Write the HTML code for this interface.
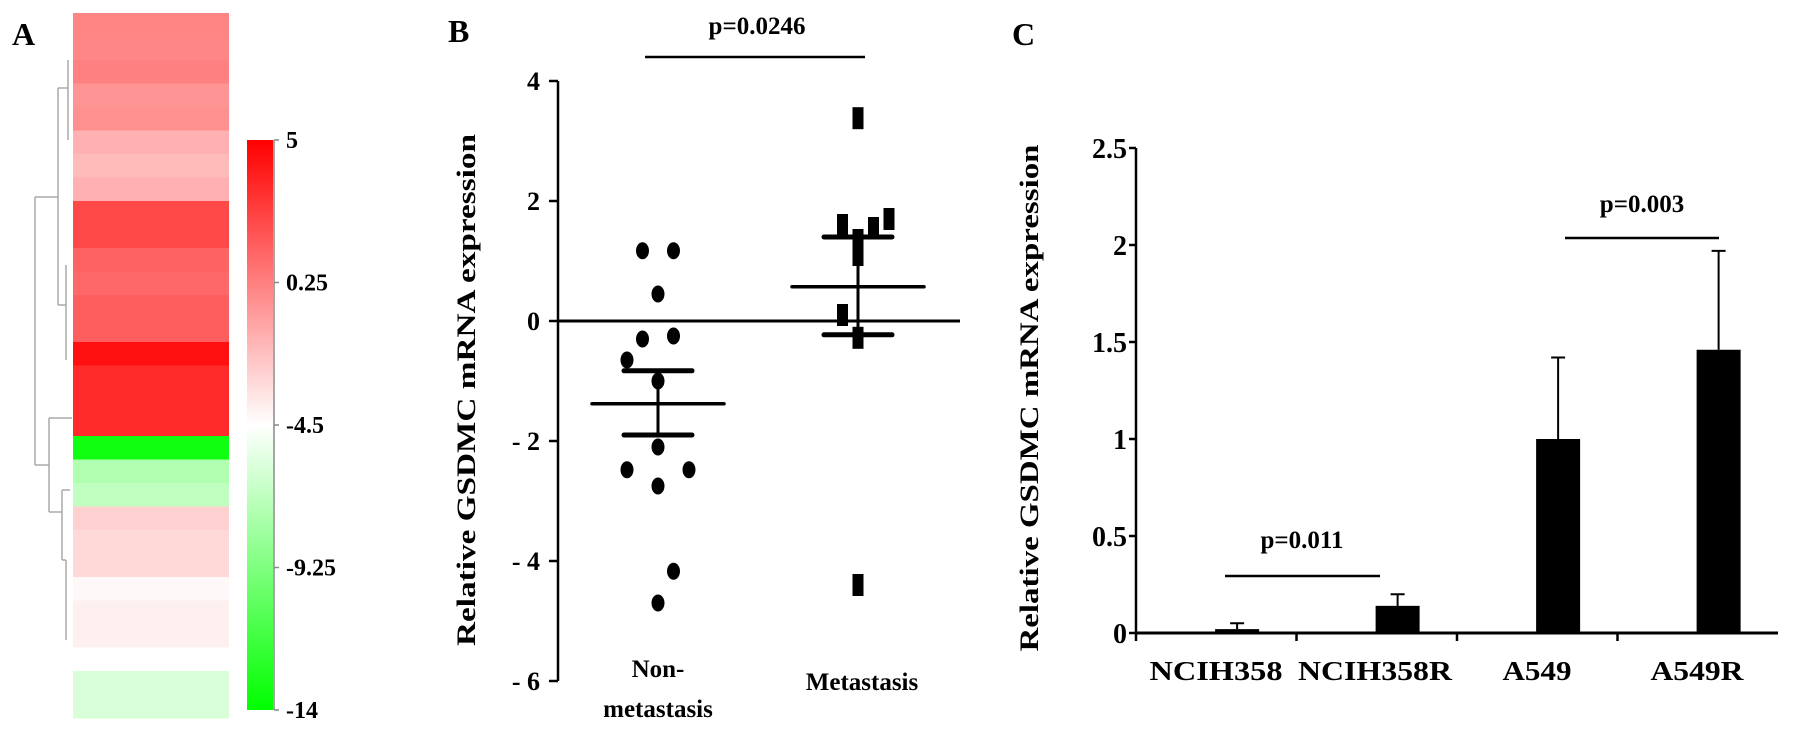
<!DOCTYPE html>
<html><head><meta charset="utf-8"><style>
html,body{margin:0;padding:0;background:#fff;}
svg{display:block;font-family:"Liberation Serif",serif;font-weight:bold;}
</style></head><body>
<svg id="fig" width="1795" height="733" viewBox="0 0 1795 733" xmlns="http://www.w3.org/2000/svg">
<defs>
<linearGradient id="cbar" x1="0" y1="0" x2="0" y2="1">
<stop offset="0" stop-color="#ff0000"/><stop offset="0.5" stop-color="#ffffff"/><stop offset="1" stop-color="#00ff00"/>
</linearGradient>
</defs>
<g id="panelA">
<text x="12" y="45" font-size="32">A</text>
<g id="heat"></g>
<g stroke="#aaa" stroke-width="1.5" fill="none">
<path d="M35,197 V465 M35,197 H58 M35,465 H49 M58,88 V305 M58,88 H68 M58,305 H66 M49,418 V512 M49,418 H72 M49,512 H62 M62,490 V560 M62,490 H70 M62,560 H66 M68,60 V140 M66,265 V360 M66,560 V640"/>
</g>
<rect x="247" y="140" width="26" height="570" fill="url(#cbar)"/>
<line x1="274" y1="140" x2="274" y2="710" stroke="#888" stroke-width="1.5"/>
<g id="cbticks" font-size="24"></g>
</g>
<g id="panelB">
<text x="448" y="42" font-size="32">B</text>
<text x="757" y="34" font-size="25" text-anchor="middle">p=0.0246</text>
<line x1="645" y1="57" x2="865" y2="57" stroke="#000" stroke-width="2.5"/>
<text transform="translate(475,390) rotate(-90)" font-size="26" text-anchor="middle" textLength="512" lengthAdjust="spacingAndGlyphs">Relative GSDMC mRNA expression</text>
<g id="bAxis"></g>
<g id="bMarks"></g>
<text x="658" y="677" font-size="25" text-anchor="middle">Non-</text>
<text x="658" y="717" font-size="25" text-anchor="middle">metastasis</text>
<text x="862" y="690" font-size="25" text-anchor="middle">Metastasis</text>
</g>
<g id="panelC">
<text x="1012" y="45" font-size="32">C</text>
<text transform="translate(1038,398) rotate(-90)" font-size="26" text-anchor="middle" textLength="507" lengthAdjust="spacingAndGlyphs">Relative GSDMC mRNA expression</text>
<g id="cAxis"></g>
<g id="cBars"></g>
<text x="1642" y="212" font-size="25" text-anchor="middle">p=0.003</text>
<line x1="1565" y1="238" x2="1719" y2="238" stroke="#000" stroke-width="2.5"/>
<text x="1302" y="548" font-size="25" text-anchor="middle">p=0.011</text>
<line x1="1225" y1="576" x2="1380" y2="576" stroke="#000" stroke-width="2.5"/>
</g>
</svg>
<script>
// Panel A data
const heatValues=[0.08,0.0,0.23,-0.5,-0.37,-1.56,-1.93,-1.56,2.32,2.32,1.35,1.13,1.5,1.5,4.4,3.43,3.43,3.43,-13.4,-7.44,-6.85,-2.75,-3.05,-3.05,-4.24,-3.94,-3.94,-4.5,-5.95,-5.95];
const scaleTicks=[5,0.25,-4.5,-9.25,-14];
// Panel B data
const nonMetX=[-1,1,0,-1,1,-2,0,0,-2,2,0,1,0];
const nonMetY=[1.17,1.17,0.45,-0.3,-0.25,-0.65,-1.0,-2.1,-2.48,-2.48,-2.75,-4.17,-4.7];
const metX=[-1,0,0,1,2,0,-1,0,0];
const metY=[1.6,1.35,1.1,1.55,1.7,3.38,0.1,-0.28,-4.4];
const bStats={nonMean:-1.38,nonHi:-0.83,nonLo:-1.9,metMean:0.57,metHi:1.4,metLo:-0.23};
const bTicks=[4,2,0,-2,-4,-6];
// Panel C data
const cCats=["NCIH358","NCIH358R","A549","A549R"];
const cVals=[0.02,0.14,1.0,1.46];
const cErr=[0.05,0.2,1.42,1.97];
const cTicks=[0,0.5,1,1.5,2,2.5];
const cTickLabels=["0","0.5","1","1.5","2","2.5"];

const NS='http://www.w3.org/2000/svg';
function mk(tag,attrs,parent){const e=document.createElementNS(NS,tag);for(const k in attrs)e.setAttribute(k,attrs[k]);parent.appendChild(e);return e;}

// Heatmap
const heat=document.getElementById('heat');
const hTop=13,hBot=718,rowH=(hBot-hTop)/heatValues.length;
function heatColor(v){
 if(v>=-4.5){const t=(v+4.5)/9.5;const g=Math.round(255*(1-t));return `rgb(255,${g},${g})`;}
 const t=(-4.5-v)/9.5;const rb=Math.round(255*(1-t));return `rgb(${rb},255,${rb})`;
}
heatValues.forEach((v,i)=>{
 const r=mk('rect',{x:73,y:hTop+i*rowH,width:156,height:rowH+0.6,fill:heatColor(v)},heat);
 
 
});
const cb=document.getElementById('cbticks');
function cbY(v){return 140+(5-v)/19*570;}
scaleTicks.forEach(v=>{
 mk('line',{x1:274,y1:cbY(v),x2:279,y2:cbY(v),stroke:'#888','stroke-width':1.5},cb);
 const t=mk('text',{x:286,y:cbY(v)+8},cb);t.textContent=String(v);
 
 
});

// Panel B
const bY=v=>321-v*60;
const bAx=document.getElementById('bAxis');
mk('line',{x1:558,y1:bY(4),x2:558,y2:bY(-6),stroke:'#000','stroke-width':2.5},bAx);
bTicks.forEach(v=>{
 mk('line',{x1:549,y1:bY(v),x2:558,y2:bY(v),stroke:'#000','stroke-width':2.5},bAx);
 const t=mk('text',{x:540,y:bY(v)+9,'font-size':26,'text-anchor':'end'},bAx);t.textContent=v<0?'- '+(-v):String(v);
 
 
});
const zl=mk('line',{x1:558,y1:bY(0),x2:960,y2:bY(0),stroke:'#000','stroke-width':3},bAx);


const bm=document.getElementById('bMarks');
const nonCx=658,metCx=858,jit=15.5;
nonMetY.forEach((v,i)=>{
 const e=mk('ellipse',{cx:nonCx+nonMetX[i]*jit,cy:bY(v),rx:6.5,ry:8.5,fill:'#000'},bm);
 
 
});
metY.forEach((v,i)=>{
 const e=mk('rect',{x:metCx+metX[i]*jit-5.5,y:bY(v)-11,width:11,height:22,fill:'#000'},bm);
 
 
});
function stat(cx,m,hi,lo,name){
 const g=mk('g',{stroke:'#000','stroke-linecap':'round'},bm);
 
 
 mk('line',{x1:cx-66,y1:bY(m),x2:cx+66,y2:bY(m),'stroke-width':3.5},g);
 mk('line',{x1:cx-34,y1:bY(hi),x2:cx+34,y2:bY(hi),'stroke-width':5},g);
 mk('line',{x1:cx-34,y1:bY(lo),x2:cx+34,y2:bY(lo),'stroke-width':5},g);
 mk('line',{x1:cx,y1:bY(hi),x2:cx,y2:bY(lo),'stroke-width':3},g);
}
stat(nonCx,bStats.nonMean,bStats.nonHi,bStats.nonLo,'non-metastasis-mean-sem');
stat(metCx,bStats.metMean,bStats.metHi,bStats.metLo,'metastasis-mean-sem');

// Panel C
const cY=v=>633-v*194;
const x0=1136,x1=1778,bw=(x1-x0)/4;
const cAx=document.getElementById('cAxis');
mk('line',{x1:x0,y1:cY(2.5),x2:x0,y2:cY(0)+8,stroke:'#000','stroke-width':2.5},cAx);
mk('line',{x1:x0,y1:cY(0),x2:x1,y2:cY(0),stroke:'#000','stroke-width':3},cAx);
cTicks.forEach((v,i)=>{
 mk('line',{x1:x0-7,y1:cY(v),x2:x0,y2:cY(v),stroke:'#000','stroke-width':2.5},cAx);
 const t=mk('text',{x:x0-9,y:cY(v)+10,'font-size':28,'text-anchor':'end'},cAx);t.textContent=cTickLabels[i];
 
 
});
for(let i=1;i<4;i++)mk('line',{x1:x0+i*bw,y1:cY(0),x2:x0+i*bw,y2:cY(0)+8,stroke:'#000','stroke-width':2.5},cAx);
const labelCx=[1216,1375,1537,1697];
const labelW=[133,154,69,93];
const cb2=document.getElementById('cBars');
cCats.forEach((c,i)=>{
 const cx=x0+i*bw+bw*0.63;
 const r=mk('rect',{x:cx-22,y:cY(cVals[i]),width:44,height:cY(0)-cY(cVals[i]),fill:'#000'},cb2);
 
 
 const e=mk('path',{d:`M${cx},${cY(cVals[i])} V${cY(cErr[i])} M${cx-7},${cY(cErr[i])} H${cx+7}`,stroke:'#000','stroke-width':2,fill:'none'},cb2);
 
 
 const t=mk('text',{x:labelCx[i],y:680,'font-size':27,'text-anchor':'middle',textLength:labelW[i],lengthAdjust:'spacingAndGlyphs'},cb2);t.textContent=c;
 
 
});
</script>
</body></html>
